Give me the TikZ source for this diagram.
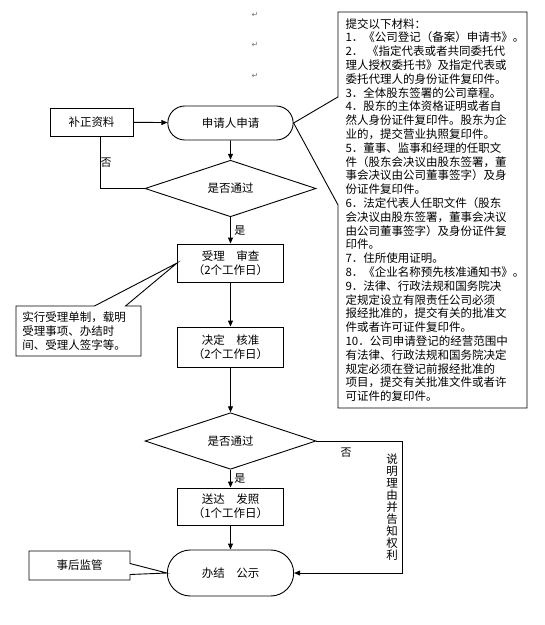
\documentclass[tikz,border=0pt]{standalone}
\usepackage{fontspec}
\newfontfamily\cjk{Noto Sans CJK SC}
\newfontfamily\symb{DejaVu Sans}
\usetikzlibrary{arrows.meta, positioning, shapes.geometric, shapes.misc, shapes.callouts}

\begin{document}
\begin{tikzpicture}[
    x=1pt, y=-1pt,
    >={Triangle[length=6pt, width=5pt]},
    font=\cjk\fontsize{11.5}{14}\selectfont,
    stepbox/.style={draw, line width=0.9pt, minimum width=106pt, minimum height=#1, align=center, inner sep=2pt},
    terminal/.style={rounded rectangle, draw, line width=0.9pt, minimum width=132pt, minimum height=#1},
    decision/.style={diamond, draw, line width=0.9pt, minimum width=171pt, minimum height=40pt, inner sep=0pt},
    note/.style={rectangle callout, draw, line width=0.9pt, align=left},
    arrow/.style={->, line width=0.9pt},
    yesno/.style={font=\cjk\fontsize{11}{11}\selectfont},
    retmark/.style={font=\symb\fontsize{8}{8}\selectfont, color=black!55},
]
\useasboundingbox (0,0) rectangle (545,625);

% Main flow
\node[stepbox=28pt, minimum width=83pt] (supply) at (91.5,122) {补正资料};
\node[terminal=34pt] (apply) at (230.5,123) {申请人申请};
\node[decision] (check1) at (230.5,188.5) {是否通过};
\node[stepbox=38pt] (accept) at (230.5,263) {受理　审查\\（2个工作日）};
\node[stepbox=40pt] (decide) at (230.5,347) {决定　核准\\（2个工作日）};
\node[decision] (check2) at (230.5,441) {是否通过};
\node[stepbox=37pt] (issue) at (230.5,506.5) {送达　发照\\（1个工作日）};
\node[terminal=46pt, minimum width=133pt] (finish) at (230.5,573) {办结　公示};

% Arrows
\draw[arrow] (supply) -- (apply);
\draw[arrow] (apply) -- (check1);
\draw[arrow] (check1) -- (accept) node[midway, right, yesno] {是};
\draw[arrow] (accept) -- (decide);
\draw[arrow] (decide) -- (check2);
\draw[arrow] (check2) -- (issue) node[midway, right, yesno] {是};
\draw[arrow] (issue) -- (finish);

% Rejected branches
\draw[line width=0.9pt] (check1.west) -| ([xshift=8.5pt]supply.south);
\node[yesno] (no1) at (106,163) {否};
\coordinate (rbend) at (402,441);
\draw[arrow] (check2.east) -- (rbend) |- (finish.east);
\node[yesno] (no2) at (346,453) {否};
\node[align=center, inner sep=0pt, font=\cjk\fontsize{11.5}{12}\selectfont] (reason) at (392,507)
  {说\\明\\理\\由\\并\\告\\知\\权\\利};

% Callouts
\node[note, minimum width=189pt, minimum height=396pt, text width=174pt, inner xsep=7.5pt,
  callout absolute pointer={(apply.east)}, callout pointer width=108pt,
  font=\cjk\fontsize{11.5}{13.8}\selectfont] (materials) at (432.5,210) {%
提交以下材料：\\
1．《公司登记（备案）申请书》。\\
2．\ 《指定代表或者共同委托代\\
理人授权委托书》及指定代表或\\
委托代理人的身份证件复印件。\\
3．全体股东签署的公司章程。\\
4．股东的主体资格证明或者自\\
然人身份证件复印件。股东为企\\
业的，提交营业执照复印件。\\
5．董事、监事和经理的任职文\\
件（股东会决议由股东签署，董\\
事会决议由公司董事签字）及身\\
份证件复印件。\\
6．法定代表人任职文件（股东\\
会决议由股东签署，董事会决议\\
由公司董事签字）及身份证件复\\
印件。\\
7．住所使用证明。\\
8．《企业名称预先核准通知书》。\\
9．法律、行政法规和国务院决\\
定规定设立有限责任公司必须\\
报经批准的，提交有关的批准文\\
件或者许可证件复印件。\\
10．公司申请登记的经营范围中\\
有法律、行政法规和国务院决定\\
规定必须在登记前报经批准的\\
项目，提交有关批准文件或者许\\
可证件的复印件。};

\node[note, minimum width=125pt, minimum height=50pt, text width=112pt, inner xsep=6pt,
  callout absolute pointer={(accept.west)}, callout pointer width=31pt] (rule) at (78.5,331)
  {实行受理单制，载明\\受理事项、办结时\\间、受理人签字等。};

\node[note, minimum width=101pt, minimum height=29pt, align=center,
  callout absolute pointer={(finish.west)}, callout pointer width=11pt] (superv) at (79.5,565.5)
  {事后监管};

% Paragraph marks
\foreach \y [count=\i] in {15,45,76}
  \node[retmark] (ret\i) at (255,\y) {↵};

\end{tikzpicture}
\end{document}
